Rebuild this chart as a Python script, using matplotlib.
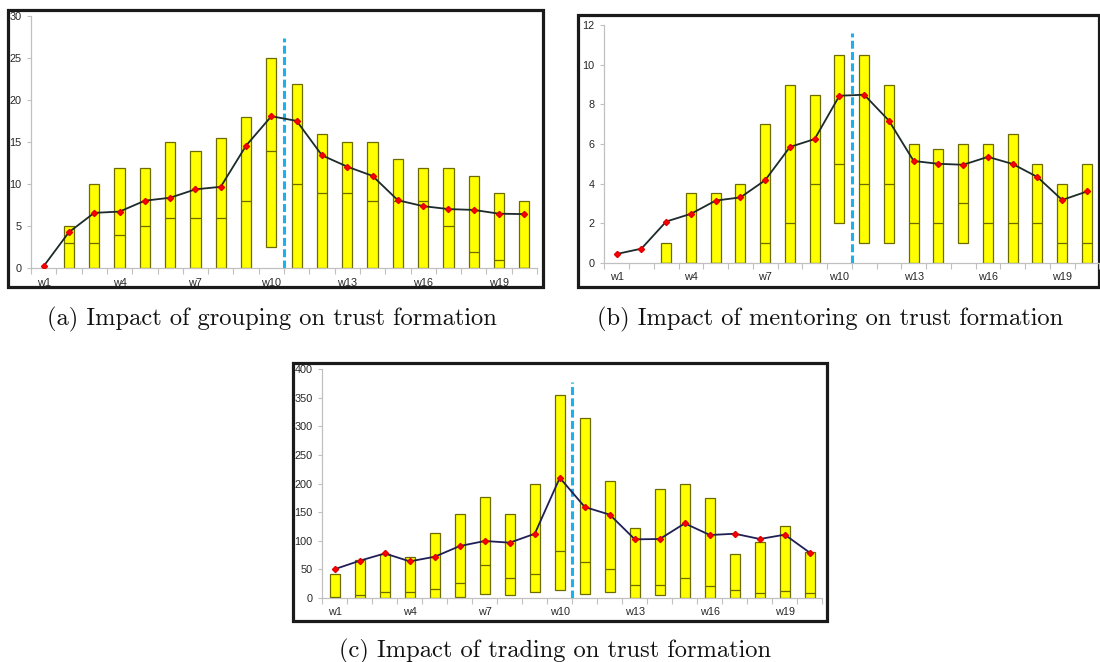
import numpy as np
import matplotlib
matplotlib.use("Agg")
import matplotlib.pyplot as plt
from matplotlib.patches import Rectangle

weeks = [f"w{i}" for i in range(1, 21)]
tick_labels = ["w1", "w4", "w7", "w10", "w13", "w16", "w19"]
nan = np.nan

# (a) grouping
a_min = [nan, 0, 0, 0, 0, 0, 0, 0, 0, 2.5, 0, 0, 0, 0, 0, 0, 0, 0, 0, 0]
a_med = [nan, 3, 3, 4, 5, 6, 6, 6, 8, 14, 10, 9, 9, 8, 8, 8, 5, 2, 1, 0]
a_max = [nan, 5, 10, 12, 12, 15, 14, 15.5, 18, 25, 22, 16, 15, 15, 13, 12, 12, 11, 9, 8]
a_mean = [0.25, 4.3, 6.6, 6.75, 8.05, 8.4, 9.4, 9.7, 14.6, 18.1, 17.55, 13.45, 12.1, 11.0, 8.1, 7.4, 7.05, 6.95, 6.5, 6.45]

# (b) mentoring
b_min = [nan, nan, 0, 0, 0, 0, 0, 0, 0, 2, 1, 1, 0, 0, 1, 0, 0, 0, 0, 0]
b_med = [nan, nan, 0, 0, 0, 0, 1, 2, 4, 5, 4, 4, 2, 2, 3, 2, 2, 2, 1, 1]
b_max = [nan, nan, 1, 3.5, 3.5, 4, 7, 9, 8.5, 10.5, 10.5, 9, 6, 5.75, 6, 6, 6.5, 5, 4, 5]
b_mean = [0.44, 0.71, 2.08, 2.47, 3.14, 3.3, 4.17, 5.85, 6.25, 8.44, 8.49, 7.18, 5.14, 5.0, 4.95, 5.35, 4.99, 4.33, 3.17, 3.6]

# (c) trading
c_min = [0, 0, 0, 0, 0, 2, 6, 5, 10, 13, 6, 10, 0, 5, 0, 0, 0, 0, 0, 0]
c_med = [2, 5, 10, 10, 16, 25, 57, 34, 41, 81, 62, 50, 22, 22, 34, 20, 13, 9, 11, 9]
c_max = [42, 66, 77, 72, 114, 146, 176, 146, 200, 355, 314, 204, 122, 190, 200, 174, 76, 98, 125, 80]
c_mean = [50, 64.8, 77.5, 63.6, 71.8, 90.5, 99.3, 96.4, 112, 210, 158.8, 145.4, 102.2, 102.8, 130.2, 109.8, 112, 102.8, 110.4, 78.8]

W, H = 1100, 662
fig = plt.figure(figsize=(W / 100, H / 100), dpi=100)

TICK_FONT = ["Liberation Sans", "DejaVu Sans"]


def px_axes(left, top, right, bottom):
    return fig.add_axes([left / W, 1 - bottom / H, (right - left) / W, (bottom - top) / H])


def frame(left, top, right, bottom):
    fig.patches.append(Rectangle((left / W, 1 - bottom / H), (right - left) / W, (bottom - top) / H,
                                 transform=fig.transFigure, fill=False, edgecolor="#1a1a1a",
                                 linewidth=2.3, zorder=-1))


def panel(ax, mins, meds, maxs, means, ymax, ystep, vtop, linecolor):
    x = np.arange(len(weeks))
    mins = np.array(mins, float)
    meds = np.array(meds, float)
    maxs = np.array(maxs, float)
    bw = 0.4
    ax.bar(x, maxs - mins, bottom=mins, width=bw, color="#ffff00", edgecolor="#6b6b00",
           linewidth=0.9, zorder=2)
    ax.hlines(meds, x - bw / 2, x + bw / 2, color="#6b6b00", linewidth=0.9, zorder=3)
    ax.vlines(9.5, 0, vtop, color="#1ab2ec", linestyle=(0, (2.6, 1.1)), linewidth=2.2, zorder=4)
    ax.plot(x, means, color=linecolor, linewidth=1.3, zorder=5,
            marker="D", markersize=3.1, markerfacecolor="#ff0000", markeredgecolor="#e00000")
    ax.set_xlim(-0.5, 19.5)
    ax.set_ylim(0, ymax)
    ax.set_yticks(np.arange(0, ymax + ystep / 2, ystep))
    ax.set_xticks([0, 3, 6, 9, 12, 15, 18])
    ax.set_xticklabels(tick_labels)
    ax.set_xticks(np.arange(-0.5, 20, 1), minor=True)
    ax.tick_params(axis="x", which="major", length=0, pad=7, labelsize=7.8, labelcolor="#262626")
    ax.tick_params(axis="x", which="minor", length=4, color="#c0c0c0", width=0.8)
    ax.tick_params(axis="y", length=3, color="#c0c0c0", width=0.8, pad=4, labelsize=7.8,
                   labelcolor="#262626")
    for lab in ax.get_xticklabels() + ax.get_yticklabels():
        lab.set_family(TICK_FONT)
    for s in ("top", "right"):
        ax.spines[s].set_visible(False)
    for s in ("left", "bottom"):
        ax.spines[s].set_color("#c0c0c0")
        ax.spines[s].set_linewidth(0.9)
    ax.set_facecolor("none")


# frames
frame(8, 10, 543, 287)
frame(578, 15, 1099, 287)
frame(293, 363, 827, 621)

axa = px_axes(31, 16.3, 537, 268.3)
panel(axa, a_min, a_med, a_max, a_mean, 30, 5, 27.4, "#1c2a2a")
axb = px_axes(604.3, 25.3, 1099.3, 262.7)
panel(axb, b_min, b_med, b_max, b_mean, 12, 2, 11.6, "#1c2a2a")
axc = px_axes(322.3, 369.3, 822.3, 597.7)
panel(axc, c_min, c_med, c_max, c_mean, 400, 50, 377, "#1f1f55")

CAP = dict(family=["cmr10", "DejaVu Serif"], fontsize=17.6, ha="center", va="baseline", color="#111111")
fig.text(271.5 / W, 1 - 325 / H, "(a) Impact of grouping on trust formation", **CAP)
fig.text(830 / W, 1 - 325 / H, "(b) Impact of mentoring on trust formation", **CAP)
fig.text(555 / W, 1 - 657.5 / H, "(c) Impact of trading on trust formation", **CAP)

fig.savefig("out.png", dpi=100)
